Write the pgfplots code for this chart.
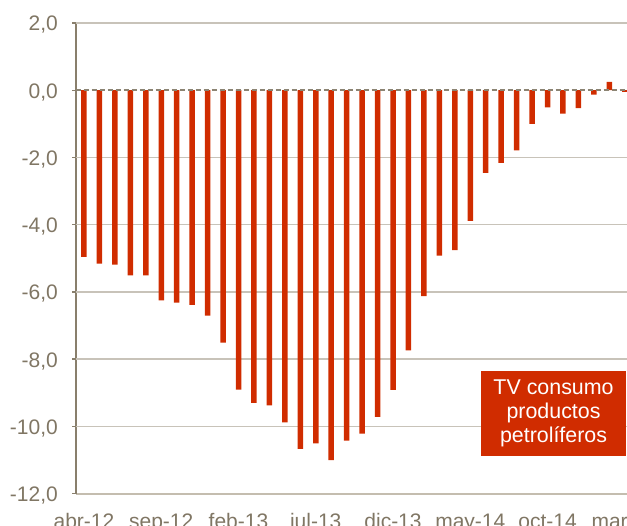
\documentclass[border=0pt]{standalone}
\usepackage{pgfplots}
\pgfplotsset{compat=1.18}
\usepackage{fontspec}
\setmainfont{Liberation Sans}
\definecolor{barc}{RGB}{208,44,0}
\definecolor{leftc}{RGB}{137,127,108}
\definecolor{bottomc}{RGB}{196,189,175}
\definecolor{gridc}{RGB}{200,195,185}
\definecolor{labc}{RGB}{128,118,100}
\definecolor{dashc}{RGB}{140,132,115}
\begin{document}
\begin{tikzpicture}
\begin{axis}[
  scale only axis, width=556.8bp, height=470.5bp,
  xmin=-0.537, xmax=35.5, ymin=-12, ymax=2,
  axis lines*=left,
  axis line style={-},
  x axis line style={draw=bottomc, line width=2bp},
  y axis line style={draw=leftc, line width=2bp},
  ytick={-12,-10,...,2},
  yticklabels={{-12,0},{-10,0},{-8,0},{-6,0},{-4,0},{-2,0},{0,0},{2,0}},
  xtick={0,5,...,35},
  xticklabels={abr-12,sep-12,feb-13,jul-13,dic-13,may-14,oct-14,mar-15},
  tick align=outside,
  ytick style={draw=leftc, line width=1.3bp},
  major tick length=3.5bp,
  xtick style={draw=none},
  /pgf/number format/assume math mode=true,
  ticklabel style={font=\fontsize{21bp}{24bp}\selectfont, text=labc},
  yticklabel style={anchor=base east, inner sep=0pt, xshift=-14.2bp, yshift=-8bp},
  xticklabel style={anchor=base, inner sep=0pt, yshift=-31bp},
  extra y ticks={-10,-8,-6,-4,-2,2},
  extra y tick labels={,,,,,},
  extra y tick style={grid=major, major tick length=0pt},
  grid style={draw=gridc, line width=1.3bp},
  clip=false,
]
\addplot[ybar, bar width=5.5bp, bar shift=0pt, fill=barc, draw=none] coordinates {
(0,-4.96) (1,-5.16) (2,-5.19) (3,-5.51) (4,-5.51) (5,-6.25) (6,-6.32) (7,-6.39)
(8,-6.71) (9,-7.51) (10,-8.91) (11,-9.30) (12,-9.38) (13,-9.88) (14,-10.67) (15,-10.51)
(16,-11.01) (17,-10.43) (18,-10.22) (19,-9.72) (20,-8.92) (21,-7.74) (22,-6.13) (23,-4.92)
(24,-4.76) (25,-3.89) (26,-2.46) (27,-2.16) (28,-1.79) (29,-1.00) (30,-0.51) (31,-0.70)
(32,-0.53) (33,-0.13) (34,0.25) (35,-0.05)
};
\addplot[dashc, line width=1.5bp, dash pattern=on 5bp off 3bp] coordinates {(-0.537,0) (35.5,0)};
\node[fill=barc, text=white, minimum width=145bp, minimum height=85bp, inner sep=0pt, align=center, font=\fontsize{21.4bp}{24.3bp}\selectfont] at (axis cs:30.39,-9.616) {TV consumo\\productos\\petrolíferos};
\end{axis}
\pgfresetboundingbox
\useasboundingbox ([xshift=-75.7bp,yshift=-32.5bp]current axis.south west) rectangle ([xshift=551.3bp,yshift=493.5bp]current axis.south west);
\end{tikzpicture}
\end{document}
